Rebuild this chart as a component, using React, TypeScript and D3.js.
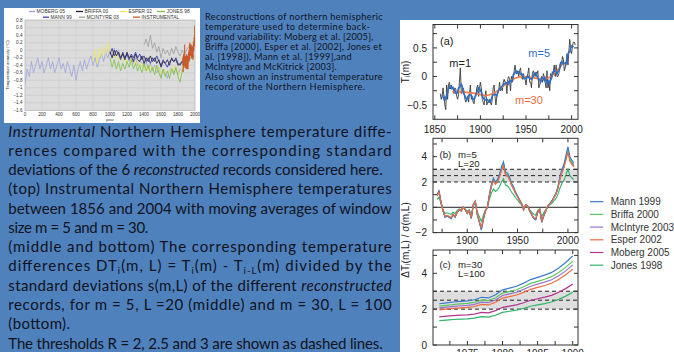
import React from 'react';
import * as d3 from 'd3';

// ---------------- Panel (a): instrumental NH temperature (°C) ----------------
const instYears = d3.range(1856, 2005);
const instTemp = [
  -0.30, -0.40, -0.35, -0.20, -0.35, -0.50, -0.58, -0.15, -0.40, -0.15,
  -0.10, -0.22, -0.15, -0.22, -0.18, -0.30, -0.20, -0.22, -0.35, -0.40,
  -0.32, -0.08, 0.15, -0.30, -0.25, -0.20, -0.25, -0.40, -0.45, -0.40,
  -0.35, -0.45, -0.30, -0.15, -0.40, -0.35, -0.45, -0.48, -0.35, -0.35,
  -0.20, -0.15, -0.35, -0.20, -0.10, -0.20, -0.40, -0.45, -0.50, -0.35,
  -0.25, -0.50, -0.45, -0.45, -0.40, -0.45, -0.50, -0.40, -0.20, -0.15,
  -0.35, -0.50, -0.35, -0.25, -0.25, -0.10, -0.25, -0.20, -0.25, -0.10,
  -0.05, -0.10, -0.10, -0.30, -0.05, 0.00, -0.05, -0.25, 0.00, -0.10,
  -0.05, 0.10, 0.20, 0.05, 0.05, 0.10, 0.00, 0.10, 0.15, 0.00,
  -0.05, 0.05, 0.00, -0.05, -0.15, -0.02, 0.05, 0.15, -0.10, -0.10,
  -0.20, 0.05, 0.10, 0.05, 0.00, 0.08, 0.05, 0.10, -0.20, -0.15,
  -0.05, 0.00, -0.10, 0.05, 0.00, -0.10, -0.20, 0.10, -0.20, -0.10,
  -0.25, 0.05, -0.05, 0.05, 0.10, 0.20, 0.00, 0.20, 0.00, 0.00,
  0.05, 0.20, 0.25, 0.20, 0.35, 0.30, 0.10, 0.15, 0.25, 0.40,
  0.20, 0.45, 0.65, 0.45, 0.40, 0.55, 0.60, 0.60, 0.55,
];
const m30Years = [1869, 1875, 1880, 1885, 1890, 1895, 1900, 1905, 1910, 1915, 1920, 1925, 1930,
  1935, 1940, 1945, 1950, 1955, 1960, 1965, 1970, 1975, 1980, 1985, 1990];
const m30Temp = [-0.265, -0.27, -0.27, -0.28, -0.285, -0.30, -0.32, -0.335, -0.325, -0.29, -0.24,
  -0.17, -0.10, -0.05, -0.02, 0.0, -0.005, -0.015, -0.03, -0.045, -0.05, -0.03, 0.03, 0.12, 0.22];

// ---------------- Panels (b), (c): reconstructions ----------------
const records = ['Mann 1999', 'Briffa 2000', 'McIntyre 2003', 'Esper 2002', 'Moberg 2005', 'Jones 1998'];
const recordColors = ['#3a7ad0', '#5cc85c', '#9c72d2', '#f26a3c', '#b4338e', '#2fb36b'];

// (b) m = 5, L = 20: temperature difference (°C) and std devs of each record
const dT5Years = d3.range(1870, 2007, 2);
const dT5 = [
  0.10, 0.13, 0.04, -0.03, -0.08, -0.07, -0.08, -0.09, -0.06, -0.08,
  -0.04, -0.02, -0.03, 0.00, -0.02, -0.05, -0.03, -0.09, 0.02, 0.05,
  -0.06, -0.12, -0.18, -0.10, -0.03, 0.00, 0.10, 0.18, 0.23, 0.20,
  0.22, 0.26, 0.32, 0.36, 0.28, 0.27, 0.24, 0.19, 0.16, 0.12,
  0.09, 0.06, 0.03, -0.02, 0.02, 0.01, -0.03, -0.06, -0.09, -0.10,
  -0.04, -0.02, -0.12, -0.07, -0.03, 0.01, 0.03, 0.05, 0.08, 0.11,
  0.16, 0.24, 0.30, 0.34, 0.41, 0.48, 0.40, 0.37, 0.35,
];
const sigma5 = [0.100, 0.104, 0.107, 0.110, 0.106, 0.160];

// (c) m = 30, L = 100
const dT30Years = d3.range(1971, 1991);
const dT30 = [0.184, 0.188, 0.192, 0.195, 0.197, 0.202, 0.213, 0.210, 0.224, 0.246,
  0.254, 0.262, 0.276, 0.292, 0.302, 0.312, 0.324, 0.344, 0.368, 0.398];
const sigma30 = [0.080, 0.085, 0.089, 0.094, 0.117, 0.135];

const thresholds = [2, 2.5, 3];

// ---------------- Inset: millennial reconstructions (°C) ----------------
const mobergYears = d3.range(0, 2000, 25);
const mobergT = [
  -0.9, -0.5, -0.7, -0.3, -0.6, -0.4, -0.2, -0.5, -0.3, -0.6,
  -0.4, -0.2, -0.5, -0.3, -0.6, -0.4, -0.2, -0.5, -0.35, -0.6,
  -0.3, -0.5, -0.7, -0.4, -0.8, -0.5, -0.3, -0.55, -0.25, -0.5,
  -0.3, -0.15, -0.4, -0.2, -0.45, -0.25, -0.1, -0.3, -0.05, -0.2,
  0.0, -0.15, 0.05, -0.1, 0.0, -0.2, -0.05, -0.25, -0.1, -0.3,
  -0.15, -0.35, -0.2, -0.4, -0.25, -0.35, -0.45, -0.3, -0.5, -0.35,
  -0.55, -0.4, -0.6, -0.45, -0.7, -0.5, -0.6, -0.75, -0.55, -0.45,
  -0.6, -0.5, -0.65, -0.5, -0.55, -0.4, -0.45, -0.3, -0.2, -0.25,
];
const esperYears = d3.range(800, 2000, 25);
const esperT = [
  -0.3, 0.0, -0.35, 0.05, -0.2, 0.1, -0.1, 0.2, -0.05, 0.0,
  -0.2, -0.05, -0.25, -0.1, -0.3, -0.2, -0.35, -0.15, -0.3, -0.25,
  -0.4, -0.3, -0.45, -0.35, -0.5, -0.4, -0.55, -0.4, -0.5, -0.45,
  -0.55, -0.45, -0.65, -0.5, -0.6, -0.55, -0.6, -0.45, -0.55, -0.4,
  -0.6, -0.65, -0.5, -0.45, -0.35, -0.25, -0.2, -0.1,
];
const milYears = d3.range(1000, 2000, 25);
const jonesT = [
  -0.2, -0.45, -0.25, -0.5, -0.3, -0.55, -0.35, -0.5, -0.3, -0.45,
  -0.25, -0.5, -0.35, -0.55, -0.4, -0.6, -0.35, -0.55, -0.4, -0.6,
  -0.45, -0.65, -0.4, -0.6, -0.75, -0.5, -0.7, -0.55, -0.75, -0.5,
  -0.65, -0.45, -0.7, -0.85, -0.55, -0.45, -0.4, -0.3, -0.2, -0.15,
];
const mannT = [
  -0.1, 0.05, -0.15, 0.0, -0.1, -0.25, -0.05, -0.2, -0.1, -0.25,
  -0.1, -0.2, -0.05, -0.2, -0.1, -0.25, -0.15, -0.3, -0.2, -0.35,
  -0.2, -0.3, -0.15, -0.3, -0.4, -0.25, -0.35, -0.45, -0.3, -0.25,
  -0.3, -0.2, -0.35, -0.4, -0.3, -0.25, -0.3, -0.2, -0.1, -0.15,
];
const briffaT = [
  -0.05, -0.2, 0.0, -0.15, -0.05, -0.2, -0.1, -0.25, -0.05, -0.2,
  -0.15, -0.3, -0.1, -0.25, -0.3, -0.15, -0.35, -0.2, -0.3, -0.15,
  -0.3, -0.2, -0.35, -0.25, -0.45, -0.3, -0.35, -0.25, -0.4, -0.2,
  -0.3, -0.25, -0.4, -0.35, -0.3, -0.2, -0.25, -0.15, -0.1, -0.05,
];
const mcintyreYears = d3.range(1400, 2000, 25);
const mcintyreT = [
  0.15, 0.3, 0.1, 0.4, 0.05, 0.2, -0.05, 0.1, -0.2, 0.05,
  -0.1, 0.0, -0.15, 0.05, -0.1, 0.1, -0.05, -0.15, 0.0, -0.1,
  0.0, 0.1, 0.15, 0.1,
];
const insetLegendRow1 = ['MOBERG 05', 'BRIFFA 00', 'ESPER 02', 'JONES 98'];
const insetLegendRow2 = ['MANN 99', 'MCINTYRE 03', 'INSTRUMENTAL'];
const insetYTicks = [0.8, 0.6, 0.4, 0.2, 0, -0.2, -0.4, -0.6, -0.8, -1.0, -1.2, -1.4, -1.6];
const insetXTicks = d3.range(0, 2001, 200);

// ---------------- Slide text ----------------
const noteLines = [
  'Reconstructions of northern hemispheric',
  'temperature used to determine back-',
  'ground variability: Moberg et al. [2005],',
  'Briffa [2000], Esper et al. [2002], Jones et',
  'al. [1998]), Mann et al. [1999],and',
  'McIntyre and McKitrick [2003].',
  'Also shown an instrumental temperature',
  'record of the Northern Hemisphere.',
];
const noteEnds = [382.7, 370, 373.3, 381.7, 351.7, 336.7, 382.7, 365];

type Seg = [string, string?];
const bodyLines: Seg[][] = [
  [['Instrumental', 'i'], [' Northern Hemisphere temperature diffe-']],
  [['rences compared with the corresponding standard']],
  [['deviations of the 6 '], ['reconstructed', 'i'], [' records considered here.']],
  [['(top) Instrumental Northern Hemisphere temperatures']],
  [['between 1856 and 2004 with moving averages of window']],
  [['size m = 5 and m = 30.']],
  [['(middle and bottom) The corresponding temperature']],
  [['differences DT'], ['i', 's'], ['(m, L) = T'], ['i', 's'], ['(m) - T'], ['i-L', 's'], ['(m) divided by the']],
  [['standard deviations s(m,L) of the different '], ['reconstructed', 'i']],
  [['records, for m = 5, L =20 (middle) and m = 30, L = 100']],
  [['(bottom).']],
  [['The thresholds R = 2, 2.5 and 3 are shown as dashed lines.']],
];
const bodyEnds = [391.7, 391.7, 382.7, 391.7, 391.7, 148.3, 391.7, 391.7, 391.7, 391.7, 70, 382.7];

const FONT_BODY = 'Lato, "Open Sans", sans-serif';
const FONT_FIG = '"Liberation Sans", Arial, Helvetica, sans-serif';
const TXT = '#10131c';

type P = [number, number];
const zip = (xs: number[], ys: number[]): P[] => xs.map((x, i) => [x, ys[i]]);

function Frame({ x, y, xt, yt, xl, yl, xlY, fmt, id }: any) {
  const [x0, x1] = x.range();
  const [yb0, yt1] = y.range();
  return (
    <g stroke="#333" strokeWidth={1}>
      <rect x={x0} y={yt1} width={x1 - x0} height={yb0 - yt1} fill="none" />
      {xt.map((t: number) => (
        <g key={id + 'x' + t}>
          <line x1={x(t)} x2={x(t)} y1={yb0} y2={yb0 - 4} />
          <line x1={x(t)} x2={x(t)} y1={yt1} y2={yt1 + 4} />
        </g>
      ))}
      {yt.map((t: number) => (
        <g key={id + 'y' + t}>
          <line x1={x0} x2={x0 + 4} y1={y(t)} y2={y(t)} />
          <line x1={x1} x2={x1 - 4} y1={y(t)} y2={y(t)} />
        </g>
      ))}
      <g stroke="none" fill="#222" fontFamily={FONT_FIG} fontSize={10}>
        {xl.map((t: number) => (
          <text key={id + 'xl' + t} x={x(t)} y={xlY} textAnchor="middle">{t}</text>
        ))}
        {yl.map((t: number) => (
          <text key={id + 'yl' + t} x={427} y={y(t) + 3.6} textAnchor="end">{fmt(t)}</text>
        ))}
      </g>
    </g>
  );
}

export default function App() {
  const xa = d3.scaleLinear().domain([1848, 2007]).range([433, 578]);
  const ya = d3.scaleLinear().domain([-0.75, 0.91]).range([119.3, 24.5]);
  const xb = d3.scaleLinear().domain([1866, 2010]).range([433, 578]);
  const yb = d3.scaleLinear().domain([-2, 5.45]).range([232.6, 138.3]);
  const xc = d3.scaleLinear().domain([1970.1, 1990.75]).range([433, 578]);
  const yc = d3.scaleLinear().domain([0, 5.3]).range([345, 250]);
  const xi = d3.scaleLinear().domain([0, 2000]).range([25, 195]);
  const yi = d3.scaleLinear().domain([-1.6, 0.8]).range([110.3, 20.3]);

  const lineA = d3.line<P>().x(d => xa(d[0])).y(d => ya(d[1]));
  const lineA30 = d3.line<P>().x(d => xa(d[0])).y(d => ya(d[1])).curve(d3.curveBasis);
  const lineB = d3.line<P>().x(d => xb(d[0])).y(d => yb(d[1]));
  const lineC = d3.line<P>().x(d => xc(d[0])).y(d => yc(d[1]));
  const lineI = d3.line<P>().x(d => xi(d[0])).y(d => yi(d[1]));

  const ma5: P[] = instYears
    .map((yr, i) => (i >= 2 && i < instYears.length - 2 ? [yr, d3.mean(instTemp.slice(i - 2, i + 3)) as number] : null))
    .filter(Boolean) as P[];

  const fmtA = (v: number) => (v === 0 ? '0' : (v < 0 ? '\u2212' : '') + Math.abs(v).toFixed(1));
  const fmtI = (v: number) => (v < 0 ? '\u2212' : '') + Math.abs(v).toString();

  const insetSeries = [
    { pts: zip(mobergYears, mobergT), c: '#9a9de0', w: 0.7 },
    { pts: zip(esperYears, esperT), c: '#e8e85a', w: 0.8 },
    { pts: zip(milYears, jonesT), c: '#7cc444', w: 0.8 },
    { pts: zip(mcintyreYears, mcintyreT), c: '#9a9a9a', w: 0.8 },
    { pts: zip(milYears, mannT), c: '#4040b0', w: 0.9 },
    { pts: zip(milYears, briffaT), c: '#1d1d3a', w: 0.8 },
    { pts: zip(instYears, instTemp), c: '#cc5a28', w: 0.8 },
  ];
  const legCol1 = ['#9a9de0', '#1d1d3a', '#e8e85a', '#7cc444'];
  const legCol2 = ['#4040b0', '#9a9a9a', '#cc5a28'];
  const legX1 = [[29, 35], [76, 83], [120, 127], [157, 165]];
  const legX2 = [[43, 49], [79, 85], [133, 140]];

  return (
    <div style={{ position: 'absolute', left: 0, top: 0, width: 674, height: 352 }}>
      <svg width={674} height={352} style={{ display: 'block' }}>
        <defs>
          <clipPath id="ca"><rect x={433} y={24.5} width={145} height={94.8} /></clipPath>
          <clipPath id="cb"><rect x={433} y={138.3} width={145} height={94.3} /></clipPath>
          <clipPath id="cc"><rect x={433} y={250} width={145} height={95} /></clipPath>
          <clipPath id="ci"><rect x={25} y={20} width={170} height={90.5} /></clipPath>
        </defs>
        <rect x={0} y={0} width={674} height={352} fill="#4f81bd" />

        {/* ---------- Inset chart ---------- */}
        <rect x={4} y={8} width={196} height={115} fill="#ffffff" />
        <rect x={25} y={20} width={170} height={90.5} fill="#dcdcdc" stroke="#a8a8a8" strokeWidth={0.5} />
        {insetYTicks.map(t => (
          <line key={'igy' + t} x1={25} x2={195} y1={yi(t)} y2={yi(t)} stroke="#c2c2c2" strokeWidth={0.5} />
        ))}
        {insetXTicks.map(t => (
          <line key={'igx' + t} x1={xi(t)} x2={xi(t)} y1={20} y2={110.5} stroke="#c8c8c8" strokeWidth={0.5} />
        ))}
        <g clipPath="url(#ci)" fill="none">
          {insetSeries.map((s, k) => (
            <path key={'is' + k} d={lineI(s.pts) || ''} stroke={s.c} strokeWidth={s.w} />
          ))}
        </g>
        <g fontFamily={FONT_FIG} fontSize={4.6} fill="#333">
          {insetYTicks.map(t => (
            <text key={'iyl' + t} x={22.5} y={yi(t) + 1.6} textAnchor="end">{fmtI(t)}</text>
          ))}
          {insetXTicks.map(t => (
            <text key={'ixl' + t} x={xi(t)} y={115.5} textAnchor="middle">{t}</text>
          ))}
          <text x={110} y={121} textAnchor="middle" fontSize={4}>year</text>
          <text transform="translate(9,65) rotate(-90)" textAnchor="middle" fontSize={4.2}>Temperature anomaly (°C)</text>
          {insetLegendRow1.map((n, k) => (
            <g key={'il1' + k}>
              <line x1={legX1[k][0]} x2={legX1[k][1]} y1={11.5} y2={11.5} stroke={legCol1[k]} strokeWidth={1.3} />
              <text x={legX1[k][1] + 1.5} y={13.2} fontSize={4.9}>{n}</text>
            </g>
          ))}
          {insetLegendRow2.map((n, k) => (
            <g key={'il2' + k}>
              <line x1={legX2[k][0]} x2={legX2[k][1]} y1={17.2} y2={17.2} stroke={legCol2[k]} strokeWidth={1.3} />
              <text x={legX2[k][1] + 1.5} y={18.9} fontSize={4.9}>{n}</text>
            </g>
          ))}
        </g>

        {/* ---------- Note text beside inset ---------- */}
        <g fontFamily={FONT_BODY} fontSize={9.2} fill={TXT}>
          {noteLines.map((l, k) => (
            <text key={'n' + k} x={205} y={19.8 + k * 10} textLength={noteEnds[k] - 205} lengthAdjust="spacing">{l}</text>
          ))}
        </g>

        {/* ---------- Body text ---------- */}
        <g fontFamily={FONT_BODY} fontSize={15} fill={TXT}>
          {bodyLines.map((segs, k) => (
            <text key={'b' + k} x={8.3} y={136.6 + k * 19.27} textLength={bodyEnds[k] - 8.3} lengthAdjust="spacing" style={{ whiteSpace: 'pre' }}>
              {segs.map((s, j) =>
                s[1] === 's' ? (
                  <tspan key={j} fontSize={9.5} baselineShift="-25%">{s[0]}</tspan>
                ) : (
                  <tspan key={j} fontStyle={s[1] === 'i' ? 'italic' : 'normal'}>{s[0]}</tspan>
                )
              )}
            </text>
          ))}
        </g>

        {/* ---------- Right figure ---------- */}
        <rect x={400} y={20} width={274} height={332} fill="#ffffff" />

        {/* Panel (a) */}
        <g clipPath="url(#ca)" fill="none">
          <path d={lineA(zip(instYears, instTemp)) || ''} stroke="#3a3a3a" strokeWidth={0.9} />
          <path d={lineA30(zip(m30Years, m30Temp)) || ''} stroke="#f47c48" strokeWidth={1.7} />
          <path d={lineA(ma5) || ''} stroke="#2f6fc4" strokeWidth={1.6} />
        </g>
        <Frame id="a" x={xa} y={ya} xt={d3.range(1850, 2007, 25)} yt={[-0.5, -0.25, 0, 0.25, 0.5, 0.75]}
          xl={[1850, 1900, 1950, 2000]} yl={[-0.5, 0, 0.5]} xlY={133} fmt={fmtA} />
        <g fontFamily={FONT_FIG} fontSize={11}>
          <text x={440} y={44.5} fill="#222">(a)</text>
          <text x={449.3} y={66.5} fill="#222">m=1</text>
          <text x={528.3} y={57} fill="#2f6fc4">m=5</text>
          <text x={515} y={103.8} fill="#f26a3c">m=30</text>
        </g>
        <text transform="translate(409,72) rotate(-90)" textAnchor="middle" fontFamily={FONT_FIG} fontSize={10} fill="#222">
          T<tspan fontSize={7} baselineShift="-20%">i</tspan>(m)
        </text>

        {/* Panel (b) */}
        <rect x={433} y={yb(3)} width={145} height={yb(2) - yb(3)} fill="#dedede" />
        {thresholds.map(t => (
          <line key={'tb' + t} x1={433} x2={578} y1={yb(t)} y2={yb(t)} stroke="#222" strokeWidth={1} strokeDasharray="4 3" />
        ))}
        <line x1={433} x2={578} y1={yb(0)} y2={yb(0)} stroke="#222" strokeWidth={1} />
        <g clipPath="url(#cb)" fill="none">
          {[5, 4, 2, 1, 0, 3].map(i => (
            <path key={'lb' + i} d={lineB(dT5Years.map((yr, k) => [yr, dT5[k] / sigma5[i]] as P)) || ''}
              stroke={recordColors[i]} strokeWidth={1.1} />
          ))}
        </g>
        <Frame id="b" x={xb} y={yb} xt={d3.range(1875, 2007, 25)} yt={d3.range(-2, 6)}
          xl={[1900, 1950, 2000]} yl={[-2, 0, 2, 4]} xlY={243.5} fmt={fmtI} />
        <g fontFamily={FONT_FIG} fontSize={9.6} fill="#222">
          <text x={439.5} y={157.5}>(b)</text>
          <text x={458} y={157.5}>m=5</text>
          <text x={458} y={167}>L=20</text>
        </g>

        {/* Panel (c) */}
        <rect x={433} y={yc(3)} width={145} height={yc(2) - yc(3)} fill="#dedede" />
        {thresholds.map(t => (
          <line key={'tc' + t} x1={433} x2={578} y1={yc(t)} y2={yc(t)} stroke="#222" strokeWidth={1} strokeDasharray="4 3" />
        ))}
        <g clipPath="url(#cc)" fill="none">
          {[5, 4, 3, 2, 1, 0].map(i => (
            <path key={'lc' + i} d={lineC(dT30Years.map((yr, k) => [yr, dT30[k] / sigma30[i]] as P)) || ''}
              stroke={recordColors[i]} strokeWidth={1.2} />
          ))}
        </g>
        <Frame id="c" x={xc} y={yc} xt={d3.range(1972.5, 1991, 2.5)} yt={d3.range(0, 6)}
          xl={[1975, 1980, 1985, 1990]} yl={[0, 2, 4]} xlY={357} fmt={fmtI} />
        <g fontFamily={FONT_FIG} fontSize={9.6} fill="#222">
          <text x={439.5} y={267.5}>(c)</text>
          <text x={458} y={267.5}>m=30</text>
          <text x={458} y={277}>L=100</text>
        </g>

        <text transform="translate(409,240) rotate(-90)" textAnchor="middle" fontFamily={FONT_FIG} fontSize={10} fill="#222">
          ΔT<tspan fontSize={7} baselineShift="-20%">i</tspan>(m,L) / σ(m,L)
        </text>

        {/* Legend */}
        <g fontFamily={FONT_FIG} fontSize={10} fill="#333">
          {records.map((r, i) => (
            <g key={'lg' + i}>
              <line x1={590} x2={603.3} y1={201.7 + i * 12.7} y2={201.7 + i * 12.7} stroke={recordColors[i]} strokeWidth={1.2} />
              <text x={610.7} y={205.3 + i * 12.7}>{r}</text>
            </g>
          ))}
        </g>
      </svg>
    </div>
  );
}
